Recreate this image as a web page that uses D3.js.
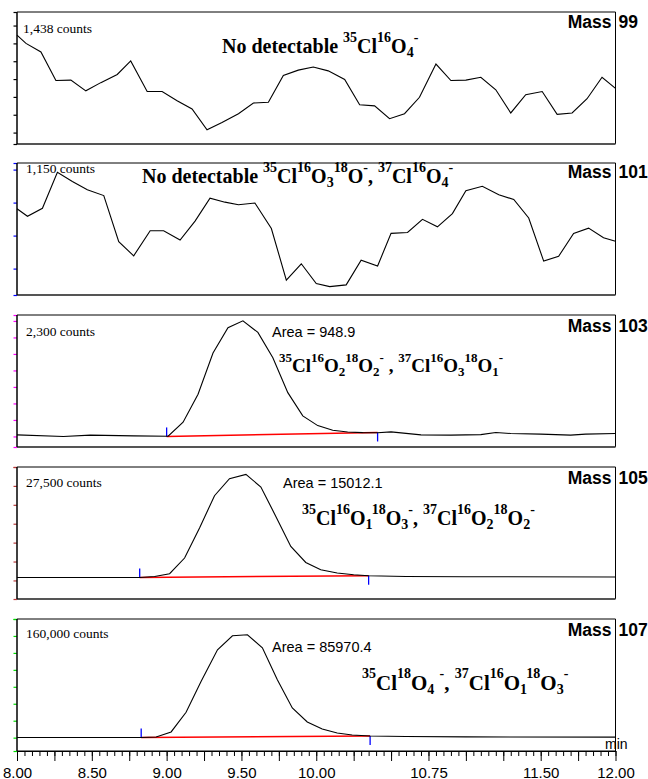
<!DOCTYPE html>
<html>
<head>
<meta charset="utf-8">
<script src="https://cdn.jsdelivr.net/npm/d3@7"></script>
<style>
  body { margin: 0; background: #fff; }
  text { white-space: pre; }
</style>
</head>
<body>
<script>
// ---- data (time in min, signal in counts) ----
const xTickLabels = ["8.00", "8.50", "9.00", "9.50", "10.00", "10.75", "11.50", "12.00"];

const mass99Times = [8.00, 8.06, 8.16, 8.26, 8.36, 8.46, 8.56, 8.67, 8.76, 8.87,
  8.97, 9.07, 9.17, 9.27, 9.37, 9.48, 9.58, 9.68, 9.78, 9.88,
  9.98, 10.08, 10.19, 10.29, 10.39, 10.49, 10.59, 10.69, 10.80, 10.90,
  11.00, 11.10, 11.20, 11.30, 11.40, 11.51, 11.61, 11.71, 11.81, 11.91, 12.00];
const mass99Counts = [1373, 1350, 1326, 1246, 1247, 1217, 1240, 1263, 1301, 1215,
  1215, 1189, 1166, 1108, 1128, 1153, 1183, 1185, 1260, 1275,
  1284, 1273, 1249, 1178, 1175, 1139, 1153, 1199, 1292, 1246,
  1247, 1255, 1220, 1155, 1206, 1215, 1151, 1155, 1195, 1255, 1224];

const mass101Times = [8.00, 8.07, 8.17, 8.27, 8.37, 8.47, 8.58, 8.68, 8.78, 8.89,
  8.98, 9.09, 9.19, 9.29, 9.39, 9.48, 9.59, 9.70, 9.80, 9.90,
  10.00, 10.09, 10.20, 10.30, 10.41, 10.50, 10.61, 10.71, 10.81, 10.91,
  11.00, 11.11, 11.22, 11.32, 11.42, 11.52, 11.62, 11.72, 11.82, 11.92, 12.00];
const mass101Counts = [1046, 1029, 1047, 1129, 1108, 1089, 1076, 971, 939, 996,
  996, 975, 1018, 1070, 1061, 1055, 1059, 1001, 884, 921,
  876, 869, 873, 929, 916, 990, 992, 1022, 1005, 1035,
  1087, 1097, 1078, 1067, 1025, 927, 938, 990, 1002, 980, 972];

const mass103Times = [8.00, 8.31, 8.49, 8.78, 9.01, 9.11, 9.21, 9.31, 9.41, 9.51,
  9.61, 9.71, 9.81, 9.91, 10.01, 10.11, 10.21, 10.31, 10.41, 10.50,
  10.70, 10.90, 11.10, 11.20, 11.30, 11.50, 11.70, 11.80, 12.00];
const mass103Counts = [30, 0, 25, 10, 5, 270, 800, 1580, 2060, 2190,
  1970, 1490, 830, 390, 205, 118, 85, 72, 70, 86,
  30, 25, 34, 75, 56, 43, 25, 43, 56];

const mass105Times = [8.00, 8.82, 8.92, 9.02, 9.12, 9.22, 9.32, 9.42, 9.53, 9.63,
  9.73, 9.83, 9.93, 10.03, 10.14, 10.25, 10.35, 10.60, 11.00, 12.00];
const mass105Counts = [730, 730, 970, 1625, 5430, 12700, 20540, 24660, 25700, 22650,
  15520, 8245, 4365, 2595, 1795, 1380, 1140, 970, 900, 850];

const mass107Times = [8.00, 8.83, 8.93, 9.03, 9.13, 9.23, 9.34, 9.44, 9.54, 9.64,
  9.74, 9.84, 9.94, 10.04, 10.14, 10.24, 10.36, 10.60, 11.00, 12.00];
const mass107Counts = [200, 200, 950, 7700, 34300, 75700, 118500, 137400, 138700, 121100,
  78000, 40100, 21200, 11750, 6350, 3650, 2300, 1600, 1000, 700];

// peak integration: [start time, start counts, end time, end counts]
const mass103Integration = [9.00, 0, 10.41, 75];
const mass105Integration = [8.82, 730, 10.35, 1140];
const mass107Integration = [8.83, 200, 10.36, 2300];

const massLabels = ["99", "101", "103", "105", "107"];
const countLabels = ["1,438 counts", "1,150 counts", "2,300 counts", "27,500 counts", "160,000 counts"];
const areaLabels = [null, null, "Area = 948.9", "Area = 15012.1", "Area = 85970.4"];
const formulas = [
  "No detectable {35}Cl{16}O[4]{-}",
  "No detectable {35}Cl{16}O[3]{18}O{-}, {37}Cl{16}O[4]{-}",
  "{35}Cl{16}O[2]{18}O[2]{-} , {37}Cl{16}O[3]{18}O[1]{-}",
  "{35}Cl{16}O[1]{18}O[3]{-}, {37}Cl{16}O[2]{18}O[2]{-}",
  "{35}Cl{18}O[4] {-}, {37}Cl{16}O[1]{18}O[3]{-}"
];

// ---- layout ----
const width = 648, height = 779;
const panelTop = [12, 163, 315, 467, 619];
const panelH = 132;

const panels = [
  { times: mass99Times, counts: mass99Counts, yDomain: [1068, 1438], tickStart: 1100, tickStep: 50, tickColor: "#000",
    formulaPos: [222, 53], formulaSize: 20, countPos: [23, 33] },
  { times: mass101Times, counts: mass101Counts, yDomain: [850, 1150], tickStart: 910, tickStep: 75, tickColor: "#0000ff",
    formulaPos: [142, 183], formulaSize: 20, countPos: [26, 173] },
  { times: mass103Times, counts: mass103Counts, yDomain: [-200, 2300], tickStart: 0, tickStep: 312.5, tickColor: "#ff00ff",
    integ: mass103Integration, formulaPos: [279, 372], formulaSize: 19, countPos: [26, 336], areaPos: [272, 337] },
  { times: mass105Times, counts: mass105Counts, yDomain: [-4500, 27500], tickStart: 0, tickStep: 27500 / 6, tickColor: "#b83a3a",
    integ: mass105Integration, formulaPos: [302, 525], formulaSize: 20, countPos: [26, 487], areaPos: [283, 488] },
  { times: mass107Times, counts: mass107Counts, yDomain: [-18000, 160000], tickStart: 0, tickStep: 160000 / 7, tickColor: "#00dd00",
    integ: mass107Integration, formulaPos: [362, 690], formulaSize: 21, countPos: [26, 638], areaPos: [272, 652] }
];
const massBaselines = [28, 178, 332, 484, 636];

const svg = d3.select("body").append("svg")
    .attr("width", width)
    .attr("height", height);

const x = d3.scaleLinear().domain([8, 12]).range([17, 615.5]);
const x0 = x.range()[0], x1 = x.range()[1];

// draws "{sup}" and "[sub]" markup as tspans
function drawFormula(g, str, px, py, size) {
    const t = g.append("text")
        .attr("x", px).attr("y", py)
        .attr("font-family", "Liberation Serif, Times New Roman, serif")
        .attr("font-weight", "bold")
        .attr("font-size", size);
    const small = Math.round(size * 0.68);
    const re = /\{([^}]*)\}|\[([^\]]*)\]|([^{\[]+)/g;
    let m, cur = 0;
    while ((m = re.exec(str)) !== null) {
        let shift = 0, txt, fs = size;
        if (m[1] !== undefined) { shift = -0.55 * size; txt = m[1]; fs = small; }
        else if (m[2] !== undefined) { shift = 0.2 * size; txt = m[2]; fs = small; }
        else { txt = m[3]; }
        t.append("tspan")
            .attr("dy", shift - cur)
            .attr("font-size", fs)
            .text(txt);
        cur = shift;
    }
}

panels.forEach(function (p, i) {
    const top = panelTop[i], bottom = top + panelH;
    const y = d3.scaleLinear().domain(p.yDomain).range([bottom, top]);
    const g = svg.append("g");

    // y ticks
    const tickVals = d3.range(p.tickStart, p.yDomain[1] + 1e-6, p.tickStep)
        .concat(p.yDomain);
    g.append("g")
        .attr("transform", "translate(" + x0 + ",0)")
        .call(d3.axisLeft(y).tickValues(tickVals).tickSize(3.5).tickFormat(""))
        .call(a => a.select(".domain").remove())
        .selectAll("line")
        .attr("stroke", p.tickColor)
        .attr("stroke-width", 1.2);

    // frame
    g.append("line").attr("x1", x0).attr("x2", x1).attr("y1", top).attr("y2", top)
        .attr("stroke", "#000").attr("stroke-width", 1);
    g.append("line").attr("x1", x1).attr("x2", x1).attr("y1", top).attr("y2", bottom)
        .attr("stroke", "#000").attr("stroke-width", 1);
    g.append("line").attr("x1", x0).attr("x2", x1).attr("y1", bottom).attr("y2", bottom)
        .attr("stroke", i === 4 ? "#000" : "#555").attr("stroke-width", i === 4 ? 1.2 : 2);
    g.append("line").attr("x1", x0).attr("x2", x0).attr("y1", top).attr("y2", bottom)
        .attr("stroke", "#000").attr("stroke-width", 1.5);

    // integration baseline and markers
    if (p.integ) {
        const [t0, c0, t1, c1] = p.integ;
        g.append("line")
            .attr("x1", x(t0)).attr("y1", y(c0))
            .attr("x2", x(t1)).attr("y2", y(c1))
            .attr("stroke", "#ff0000").attr("stroke-width", 1.5);
        g.append("line")
            .attr("x1", x(t0)).attr("x2", x(t0))
            .attr("y1", y(c0) - 9).attr("y2", y(c0))
            .attr("stroke", "#0000ff").attr("stroke-width", 1.3);
        g.append("line")
            .attr("x1", x(t1)).attr("x2", x(t1))
            .attr("y1", y(c1)).attr("y2", y(c1) + 9)
            .attr("stroke", "#0000ff").attr("stroke-width", 1.3);
    }

    // trace
    const pts = p.times.map((t, k) => [t, p.counts[k]]);
    g.append("path")
        .datum(pts)
        .attr("fill", "none")
        .attr("stroke", "#000")
        .attr("stroke-width", 1.1)
        .attr("d", d3.line().x(d => x(d[0])).y(d => y(d[1])));

    // texts
    g.append("text")
        .attr("x", p.countPos[0]).attr("y", p.countPos[1])
        .attr("font-family", "Liberation Serif, Times New Roman, serif")
        .attr("font-size", 13.5)
        .text(countLabels[i]);

    if (areaLabels[i]) {
        g.append("text")
            .attr("x", p.areaPos[0]).attr("y", p.areaPos[1])
            .attr("font-family", "Liberation Sans, Arial, sans-serif")
            .attr("font-size", 14.5)
            .text(areaLabels[i]);
    }

    drawFormula(g, formulas[i], p.formulaPos[0], p.formulaPos[1], p.formulaSize);

    g.append("text")
        .attr("x", x1 - 4).attr("y", massBaselines[i])
        .attr("text-anchor", "end")
        .attr("font-family", "Liberation Sans, Arial, sans-serif")
        .attr("font-weight", "bold").attr("font-size", 17.5)
        .text("Mass");
    g.append("text")
        .attr("x", x1 + 3).attr("y", massBaselines[i])
        .attr("font-family", "Liberation Sans, Arial, sans-serif")
        .attr("font-weight", "bold").attr("font-size", 17.5)
        .text(massLabels[i]);
});

// x axis
const axisY = panelTop[4] + panelH;
const majorTicks = d3.range(8, 12.0001, 0.25);
const minorTicks = d3.range(8, 12.0001, 0.05);

svg.append("g")
    .attr("transform", "translate(0," + axisY + ")")
    .call(d3.axisBottom(x).tickValues(minorTicks).tickSize(5).tickFormat(""))
    .call(a => a.select(".domain").remove())
    .selectAll("line").attr("stroke", "#000");

svg.append("g")
    .attr("transform", "translate(0," + axisY + ")")
    .call(d3.axisBottom(x).tickValues(majorTicks).tickSize(10).tickSizeOuter(0)
        .tickFormat(d => {
            const s = d.toFixed(2);
            return xTickLabels.includes(s) ? s : "";
        }))
    .call(a => a.select(".domain").attr("stroke", "#000").attr("stroke-width", 1.2))
    .call(a => a.selectAll("line").attr("stroke", "#000"))
    .call(a => a.selectAll("text")
        .attr("font-family", "Liberation Sans, Arial, sans-serif")
        .attr("font-size", 15)
        .attr("fill", "#000")
        .attr("dy", "0.9em"));

svg.append("text")
    .attr("x", 605).attr("y", axisY - 2)
    .attr("font-family", "Liberation Sans, Arial, sans-serif")
    .attr("font-size", 14)
    .text("min");
</script>
</body>
</html>
